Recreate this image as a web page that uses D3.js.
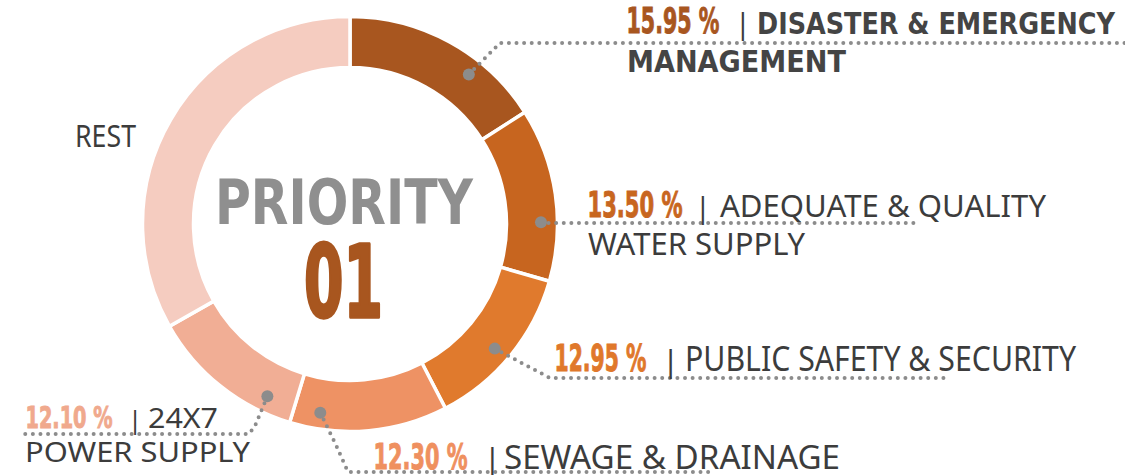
<!DOCTYPE html>
<html>
<head>
<meta charset="utf-8">
<script src="https://cdn.jsdelivr.net/npm/d3@7"></script>
<style>
  html, body { margin: 0; padding: 0; background: #fff; }
  svg { display: block; }
</style>
</head>
<body>
<svg></svg>
<script>
// chart data
const categories = ["DISASTER & EMERGENCY MANAGEMENT", "ADEQUATE & QUALITY WATER SUPPLY", "PUBLIC SAFETY & SECURITY", "SEWAGE & DRAINAGE", "24X7 POWER SUPPLY", "REST"];
const shares = [15.95, 13.50, 12.95, 12.30, 12.10, 33.20];
const colors = ["#a8561f", "#c7651f", "#e07a2d", "#ee9264", "#f1ae95", "#f5ccc0"];
const pctColors = ["#a8561f", "#c8661f", "#e0782b", "#ef905f", "#f0a98d", null];
const labelLines = [
    ["DISASTER & EMERGENCY", "MANAGEMENT"],
    ["ADEQUATE & QUALITY", "WATER SUPPLY"],
    ["PUBLIC SAFETY & SECURITY"],
    ["SEWAGE & DRAINAGE"],
    ["24X7", "POWER SUPPLY"],
    ["REST"]
];

const width = 1125;
const height = 475;
const cx = 350, cy = 224;
const outerR = 207.5, innerR = 156.5;

// callout layout: where the dot sits inside the slice, the leader path, and the text boxes
const callouts = [
    {frac: 0.67, bend: [[500, 43]], end: [1125, 43], bold: true,
     pct: {x: 626, w: 94, y: 33, size: 36}, bar: 735, size: 31,
     lines: [{x: 757, w: 358, y: 34}, {x: 627, w: 219, y: 72}]},
    {frac: 0.66, bend: [[548, 223]], end: [918, 223],
     pct: {x: 587, w: 96, y: 217, size: 36}, bar: 695, size: 31,
     lines: [{x: 720, w: 326, y: 217}, {x: 588, w: 217, y: 255}]},
    {frac: 0.53, bend: [[550, 378]], end: [945, 378],
     pct: {x: 554, w: 93, y: 371, size: 37}, bar: 662, size: 34,
     lines: [{x: 685, w: 391, y: 371}]},
    {frac: 0.82, bend: [[336, 445], [348, 472]], end: [712, 472],
     pct: {x: 373, w: 95, y: 469, size: 36}, bar: 484, size: 33,
     lines: [{x: 504, w: 336, y: 469}]},
    {frac: 0.2, bend: [[255, 426], [249, 434]], end: [25, 434],
     pct: {x: 25, w: 88, y: 428, size: 31}, bar: 128, size: 28,
     lines: [{x: 148, w: 70, y: 428}, {x: 25, w: 225, y: 462}]}
];

const svg = d3.select("svg")
    .attr("width", width)
    .attr("height", height)
    .attr("viewBox", [0, 0, width, height]);

const pie = d3.pie().sort(null).value(d => d).startAngle(0).endAngle(2 * Math.PI);
const arcs = pie(shares);

const arc = d3.arc().innerRadius(innerR).outerRadius(outerR);

const g = svg.append("g").attr("transform", `translate(${cx},${cy})`);

g.selectAll("path")
    .data(arcs)
    .join("path")
        .attr("d", arc)
        .attr("fill", (d, i) => colors[i])
        .attr("stroke", "#fff")
        .attr("stroke-width", 3.5);

// center text
svg.append("text")
    .attr("x", 215).attr("y", 224)
    .attr("textLength", 258).attr("lengthAdjust", "spacingAndGlyphs")
    .attr("font-family", "DejaVu Sans, sans-serif")
    .attr("font-weight", "bold")
    .attr("font-size", 63)
    .attr("fill", "#8f8f8f")
    .text("PRIORITY");

svg.append("text")
    .attr("x", 304).attr("y", 317)
    .attr("textLength", 79).attr("lengthAdjust", "spacingAndGlyphs")
    .attr("font-family", "DejaVu Sans, sans-serif")
    .attr("font-weight", "bold")
    .attr("font-size", 100)
    .attr("fill", "#a8561f")
    .attr("stroke", "#a8561f")
    .attr("stroke-width", 3.5)
    .attr("stroke-linejoin", "round")
    .text("01");

// REST label
svg.append("text")
    .attr("x", 75).attr("y", 147)
    .attr("textLength", 61).attr("lengthAdjust", "spacingAndGlyphs")
    .attr("font-family", "Noto Sans, sans-serif")
    .attr("font-size", 31)
    .attr("fill", "#3c3c3c")
    .text(labelLines[5][0]);

// callouts
const rDot = 191;
const line = d3.line();

callouts.forEach((c, i) => {
    const a = arcs[i];
    const ang = a.startAngle + (a.endAngle - a.startAngle) * c.frac;
    const px = cx + rDot * Math.sin(ang);
    const py = cy - rDot * Math.cos(ang);

    const pts = [[px, py], ...c.bend, c.end];
    svg.append("path")
        .attr("d", line(pts))
        .attr("fill", "none")
        .attr("stroke", "#8c8c8c")
        .attr("stroke-width", 4)
        .attr("stroke-linecap", "round")
        .attr("stroke-dasharray", "0,7.6");

    svg.append("circle")
        .attr("cx", px).attr("cy", py)
        .attr("r", 6)
        .attr("fill", "#8c8c8c");

    svg.append("text")
        .attr("x", c.pct.x + 0.5).attr("y", c.pct.y)
        .attr("textLength", c.pct.w - 1).attr("lengthAdjust", "spacingAndGlyphs")
        .attr("font-family", "DejaVu Sans, sans-serif")
        .attr("font-weight", "bold")
        .attr("font-size", c.pct.size)
        .attr("fill", pctColors[i])
        .attr("stroke", pctColors[i])
        .attr("stroke-width", 1)
        .text(shares[i].toFixed(2) + " %");

    svg.append("text")
        .attr("x", c.bar).attr("y", c.pct.y + 1)
        .attr("font-family", "Noto Sans, sans-serif")
        .attr("font-size", c.size * 0.92)
        .attr("fill", "#3c3c3c")
        .text("|");

    c.lines.forEach((l, j) => {
        svg.append("text")
            .attr("x", l.x).attr("y", l.y)
            .attr("textLength", l.w).attr("lengthAdjust", "spacingAndGlyphs")
            .attr("font-family", c.bold ? "DejaVu Sans, sans-serif" : "Noto Sans, sans-serif")
            .attr("font-weight", c.bold ? "bold" : "normal")
            .attr("font-size", c.size)
            .attr("fill", c.bold ? "#444" : "#3c3c3c")
            .text(labelLines[i][j]);
    });
});
</script>
</body>
</html>
